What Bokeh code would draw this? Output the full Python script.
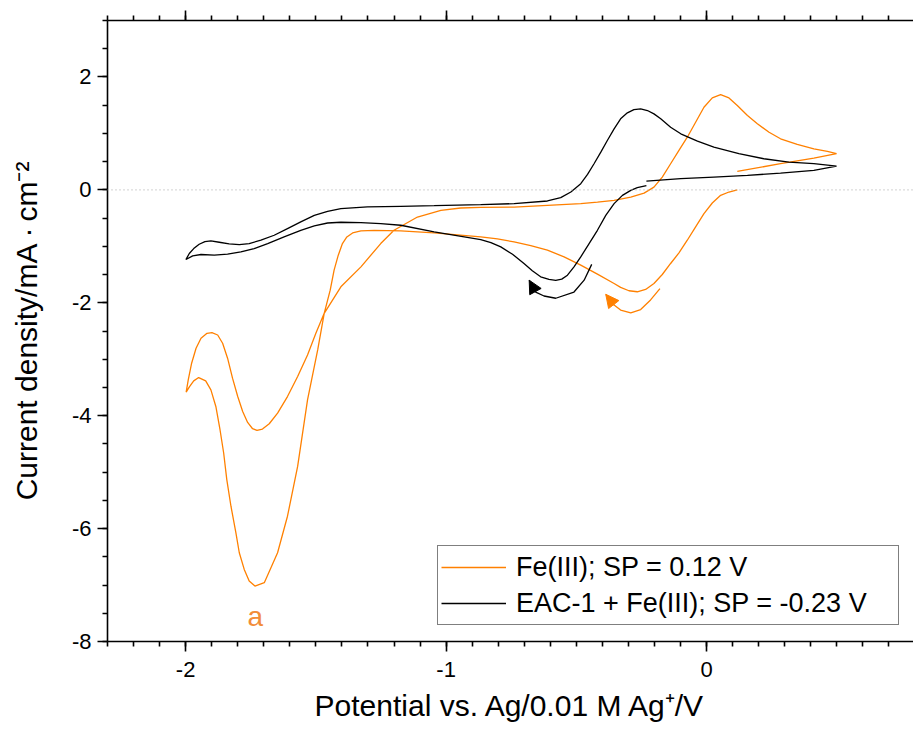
from bokeh.plotting import figure
from bokeh.models import (Range1d, LinearAxis, SingleIntervalTicker, Span, Legend,
                          LegendItem, Arrow, NormalHead, Label, ColumnDataSource,
                          CustomLabelingPolicy)
from bokeh.embed import file_html
from bokeh.resources import INLINE

# ---------------- data ----------------
# Fe(III); SP = 0.12 V  (forward scan to -2 V, return to +0.5 V, back to SP)
fe_x = [0.118, 0.086, 0.054, 0.022, -0.010, -0.042, -0.074, -0.106, -0.138, -0.170,
        -0.202, -0.234, -0.266, -0.298, -0.330, -0.355, -0.419, -0.483, -0.547, -0.611,
        -0.675, -0.739, -0.803, -0.867,
        -1.046, -1.174, -1.276, -1.327, -1.359, -1.381, -1.398, -1.414, -1.430, -1.445,
        -1.468, -1.493, -1.532, -1.570, -1.609, -1.647, -1.698, -1.734,
        -1.756, -1.775, -1.794, -1.807, -1.826, -1.842, -1.854, -1.868, -1.884, -1.903,
        -1.923, -1.950, -1.969, -1.985, -1.998,
        -1.990, -1.977, -1.960, -1.941, -1.918, -1.899, -1.877, -1.858, -1.839, -1.820,
        -1.800, -1.781, -1.762, -1.743, -1.726, -1.705, -1.679, -1.647, -1.609, -1.570,
        -1.532, -1.500, -1.468, -1.404, -1.327, -1.251, -1.200, -1.110, -1.020, -0.944,
        -0.867, -0.739, -0.611, -0.483, -0.419, -0.355, -0.291, -0.240, -0.202, -0.170,
        -0.138, -0.106, -0.074, -0.042, -0.010, 0.022, 0.054, 0.086, 0.118, 0.157,
        0.195, 0.240, 0.284, 0.348, 0.412, 0.464, 0.499,
        0.412, 0.284, 0.118]
fe_y = [0.000, -0.038, -0.097, -0.233, -0.421, -0.657, -0.892, -1.116, -1.304, -1.499,
        -1.658, -1.764, -1.805, -1.787, -1.728, -1.658, -1.493, -1.334, -1.187, -1.069,
        -0.986, -0.922, -0.869, -0.833,
        -0.763, -0.728, -0.716, -0.728, -0.763, -0.834, -0.951, -1.157, -1.422, -1.776,
        -2.187, -2.836, -3.719, -4.898, -5.781, -6.428, -6.958, -7.018,
        -6.929, -6.723, -6.428, -6.074, -5.604, -5.133, -4.661, -4.249, -3.837, -3.542,
        -3.383, -3.325, -3.383, -3.484, -3.583,
        -3.366, -3.071, -2.806, -2.629, -2.541, -2.530, -2.571, -2.717, -2.982, -3.336,
        -3.661, -3.926, -4.120, -4.231, -4.261, -4.237, -4.143, -3.954, -3.661, -3.307,
        -2.924, -2.541, -2.187, -1.717, -1.364, -0.951, -0.716, -0.481, -0.362, -0.321,
        -0.310, -0.304, -0.274, -0.244, -0.216, -0.186, -0.127, -0.057, 0.049, 0.226,
        0.463, 0.698, 0.933, 1.198, 1.463, 1.629, 1.687, 1.629, 1.493, 1.316,
        1.170, 1.021, 0.905, 0.804, 0.728, 0.680, 0.640,
        0.562, 0.463, 0.327]

# EAC-1 + Fe(III); SP = -0.23 V
eac_x = [-0.231, -0.266, -0.291, -0.323, -0.355, -0.387, -0.419, -0.451, -0.483, -0.509,
         -0.534, -0.556, -0.579, -0.605, -0.637, -0.669, -0.701, -0.745, -0.790, -0.828,
         -0.867, -1.046, -1.174, -1.251, -1.327, -1.404, -1.455, -1.506, -1.558, -1.622,
         -1.685, -1.737, -1.788, -1.839, -1.890, -1.941, -1.973, -1.999,
         -1.986, -1.969, -1.948, -1.926, -1.903, -1.871, -1.833, -1.794, -1.756, -1.711,
         -1.660, -1.609, -1.558, -1.506, -1.455, -1.404, -1.302, -1.174, -1.046, -0.867,
         -0.739, -0.611, -0.560, -0.521, -0.483, -0.457, -0.432, -0.406, -0.381, -0.355,
         -0.330, -0.304, -0.279, -0.253, -0.227, -0.202, -0.176, -0.138, -0.099, -0.035,
         0.028, 0.124, 0.220, 0.316, 0.412, 0.499,
         0.412, 0.284, 0.157, 0.028, -0.099, -0.231]
eac_y = [0.074, 0.038, -0.009, -0.097, -0.244, -0.451, -0.716, -0.951, -1.187, -1.364,
         -1.511, -1.581, -1.605, -1.587, -1.540, -1.434, -1.305, -1.140, -1.010, -0.933,
         -0.880, -0.745, -0.627, -0.598, -0.580, -0.574, -0.587, -0.639, -0.716, -0.834,
         -0.951, -1.040, -1.098, -1.140, -1.157, -1.145, -1.169, -1.234,
         -1.128, -1.040, -0.963, -0.916, -0.904, -0.928, -0.957, -0.969, -0.951, -0.892,
         -0.804, -0.686, -0.568, -0.451, -0.380, -0.333, -0.303, -0.292, -0.280, -0.262,
         -0.244, -0.197, -0.138, -0.038, 0.109, 0.274, 0.463, 0.668, 0.875, 1.081,
         1.258, 1.364, 1.422, 1.435, 1.405, 1.346, 1.258, 1.110, 0.993, 0.862,
         0.756, 0.640, 0.551, 0.491, 0.463, 0.421,
         0.345, 0.297, 0.256, 0.227, 0.198, 0.155]

# scan-direction arrows (curved guide, head at the last point)
fe_arrow_x = [-0.179, -0.215, -0.253, -0.291, -0.330, -0.355, -0.387]
fe_arrow_y = [-1.75, -1.95, -2.12, -2.18, -2.13, -2.04, -1.85]
eac_arrow_x = [-0.441, -0.470, -0.509, -0.579, -0.624, -0.656, -0.681]
eac_arrow_y = [-1.32, -1.60, -1.81, -1.92, -1.88, -1.81, -1.60]

series_labels = ["Fe(III); SP = 0.12 V", "EAC-1 + Fe(III); SP = -0.23 V"]
x_ticks = [-2, -1, 0]
x_tick_labels = ["-2", "-1", "0"]
y_ticks = [2, 0, -2, -4, -6, -8]
y_tick_labels = ["2", "0", "-2", "-4", "-6", "-8"]
x_title = "Potential vs. Ag/0.01 M Ag\u207a/V"
y_title = "Current density/mA\u2009\u00b7\u2009cm\u207b\u00b2"
peak_label = "a"
peak_label_x = -1.733
peak_label_y = -7.55

# ---------------- styling ----------------
FONT = "Liberation Sans"
ORANGE = "#FF8000"
BLACK = "#000000"

p = figure(width=913, height=731,
           x_range=Range1d(-2.3, 0.7945), y_range=Range1d(-8, 3),
           output_backend="svg", toolbar_location=None,
           min_border_left=107, min_border_right=0,
           min_border_top=20, min_border_bottom=90)
p.outline_line_color = None
p.xgrid.visible = False
p.ygrid.visible = False
p.background_fill_color = "white"
p.border_fill_color = "white"


def style_axis(ax, ticker, overrides):
    ax.ticker = ticker
    ax.major_tick_out = 10
    ax.major_tick_in = 0
    ax.minor_tick_out = 5
    ax.minor_tick_in = 0
    ax.axis_line_width = 1.6
    ax.major_tick_line_width = 1.6
    ax.minor_tick_line_width = 1.6
    ax.axis_line_color = BLACK
    ax.major_tick_line_color = BLACK
    ax.minor_tick_line_color = BLACK
    ax.major_label_text_font = FONT
    ax.major_label_text_font_size = "22px"
    ax.major_label_text_color = BLACK
    ax.major_label_overrides = overrides
    ax.axis_label_text_font = FONT
    ax.axis_label_text_font_size = "30px"
    ax.axis_label_text_font_style = "normal"
    ax.axis_label_text_color = BLACK


x_over = {t: s for t, s in zip(x_ticks, x_tick_labels)}
y_over = {t: s for t, s in zip(y_ticks, y_tick_labels)}

xa = p.xaxis[0]
style_axis(xa, SingleIntervalTicker(interval=1, num_minor_ticks=10), x_over)
xa.major_label_standoff = 10
xa.axis_label = x_title
xa.axis_label_standoff = 9

ya = p.yaxis[0]
style_axis(ya, SingleIntervalTicker(interval=2, num_minor_ticks=4), y_over)
ya.major_label_standoff = 6
ya.axis_label = y_title
ya.axis_label_standoff = 26

# top axis: ticks only, no labels
top = LinearAxis()
style_axis(top, SingleIntervalTicker(interval=1, num_minor_ticks=10), x_over)
top.major_label_text_font_size = "1px"
top.major_label_standoff = 0
top.major_label_policy = CustomLabelingPolicy(code="return []")
p.add_layout(top, "above")

# zero line
p.add_layout(Span(location=0, dimension="width", line_color="#b8b8b8",
                  line_width=1.2, line_dash="1 3"))

src_fe = ColumnDataSource(dict(x=fe_x, y=fe_y))
src_eac = ColumnDataSource(dict(x=eac_x, y=eac_y))
r_fe = p.line("x", "y", source=src_fe, line_color=ORANGE, line_width=1.3)
r_eac = p.line("x", "y", source=src_eac, line_color=BLACK, line_width=1.3)

# direction arrows
p.line(fe_arrow_x, fe_arrow_y, line_color=ORANGE, line_width=1.3)
p.line(eac_arrow_x, eac_arrow_y, line_color=BLACK, line_width=1.3)
p.add_layout(Arrow(end=NormalHead(size=13, fill_color=ORANGE, line_color=ORANGE, line_width=1),
                   x_start=fe_arrow_x[-2], y_start=fe_arrow_y[-2],
                   x_end=fe_arrow_x[-1], y_end=fe_arrow_y[-1],
                   line_color=ORANGE, line_width=1.3))
p.add_layout(Arrow(end=NormalHead(size=13, fill_color=BLACK, line_color=BLACK, line_width=1),
                   x_start=eac_arrow_x[-2], y_start=eac_arrow_y[-2],
                   x_end=eac_arrow_x[-1], y_end=eac_arrow_y[-1],
                   line_color=BLACK, line_width=1.3))

p.add_layout(Label(x=peak_label_x, y=peak_label_y, text=peak_label,
                   text_color="#F28C38", text_font=FONT, text_font_size="28px",
                   text_align="center", text_baseline="alphabetic"))

legend = Legend(items=[LegendItem(label=series_labels[0], renderers=[r_fe]),
                       LegendItem(label=series_labels[1], renderers=[r_eac])],
                location=(330, 16), margin=0, padding=3, spacing=0,
                glyph_width=65, glyph_height=36, label_height=36, label_width=379,
                label_standoff=10,
                label_text_font=FONT, label_text_font_size="27px",
                label_text_color=BLACK,
                border_line_color=BLACK, border_line_width=1,
                background_fill_color="white", background_fill_alpha=1)
p.add_layout(legend)

open("out.html", "w").write(file_html(p, INLINE))
